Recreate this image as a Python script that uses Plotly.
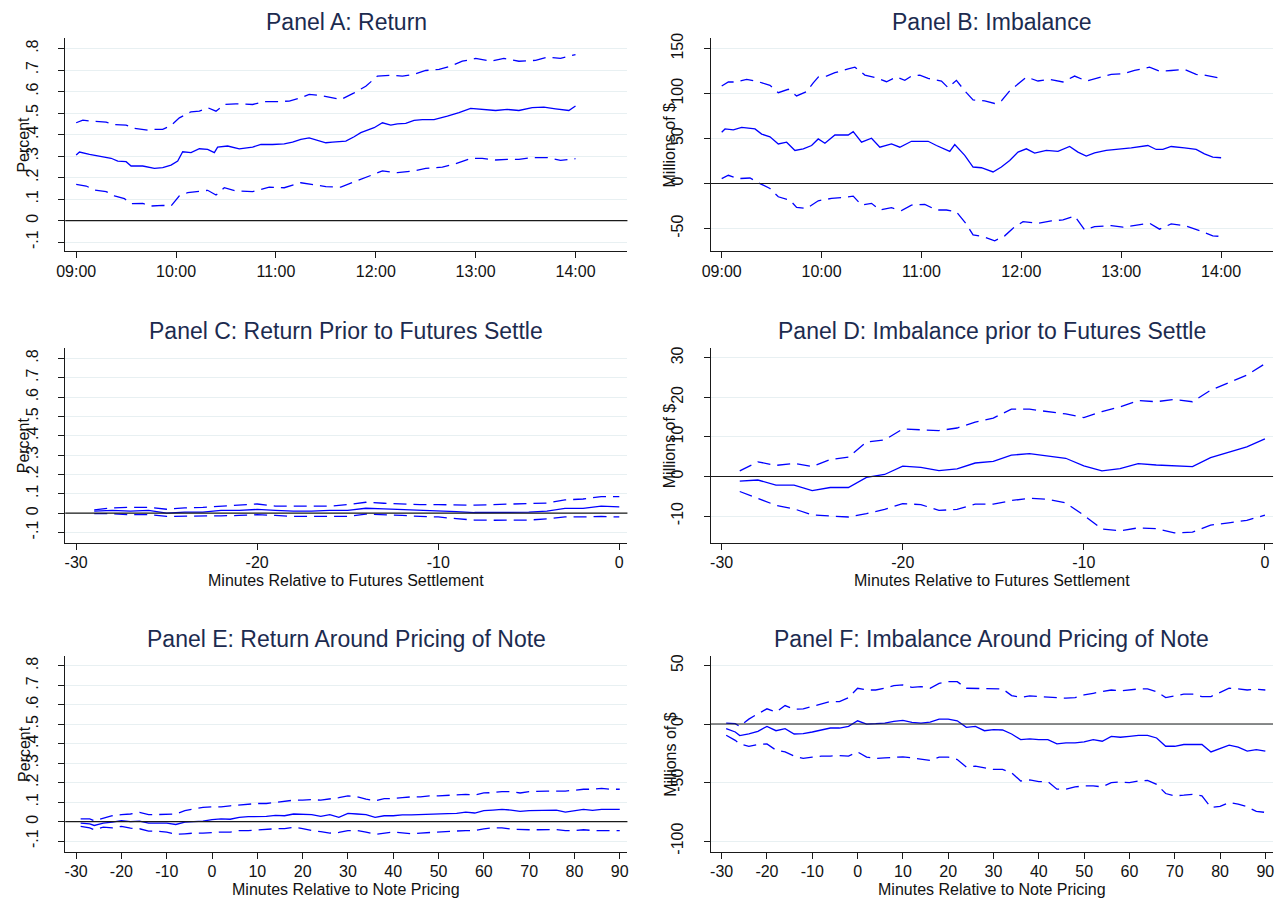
import plotly.graph_objects as go

# ---------------- data ----------------
# Panel A: cumulative return (percent), minutes after 09:00
a_mid_t = [0, 2, 8, 16, 21, 25, 30, 33, 40, 47, 52, 57, 61, 64, 69, 74, 79, 83, 85, 91, 98, 106, 111, 118, 125, 130,
           135, 140, 145, 150, 154, 162, 167, 171, 179, 184, 189, 193, 198, 203, 208, 215, 223, 230, 237, 244, 252,
           259, 266, 274, 281, 288, 296, 300]
a_mid = [0.305, 0.319, 0.308, 0.297, 0.29, 0.277, 0.274, 0.254, 0.254, 0.243, 0.246, 0.258, 0.277, 0.32, 0.316,
         0.334, 0.331, 0.316, 0.342, 0.347, 0.334, 0.342, 0.354, 0.354, 0.357, 0.365, 0.378, 0.385, 0.375, 0.362,
         0.365, 0.37, 0.39, 0.409, 0.432, 0.455, 0.444, 0.45, 0.452, 0.466, 0.47, 0.47, 0.486, 0.502, 0.522, 0.517,
         0.512, 0.517, 0.512, 0.525, 0.528, 0.52, 0.512, 0.533]
a_up_t = [0, 4, 8, 18, 23, 30, 35, 43, 47, 52, 57, 62, 69, 74, 79, 84, 89, 96, 106, 113, 120, 128, 135, 140, 147, 152,
          159, 167, 174, 181, 189, 196, 203, 210, 218, 225, 232, 240, 249, 257, 266, 276, 283, 291, 300]
a_up = [0.455, 0.467, 0.463, 0.458, 0.447, 0.444, 0.429, 0.421, 0.424, 0.424, 0.443, 0.478, 0.506, 0.509, 0.525,
        0.509, 0.54, 0.543, 0.54, 0.553, 0.553, 0.556, 0.571, 0.587, 0.582, 0.574, 0.563, 0.594, 0.625, 0.672, 0.676,
        0.672, 0.68, 0.698, 0.703, 0.718, 0.741, 0.754, 0.741, 0.754, 0.741, 0.745, 0.76, 0.754, 0.772]
a_lo_t = [0, 6, 11, 18, 23, 29, 33, 40, 45, 52, 57, 62, 67, 74, 79, 84, 89, 96, 106, 116, 125, 135, 142, 150, 159, 167,
          174, 184, 193, 203, 210, 220, 227, 237, 244, 252, 259, 266, 274, 283, 291, 300]
a_lo = [0.169, 0.161, 0.142, 0.135, 0.115, 0.102, 0.079, 0.08, 0.068, 0.071, 0.068, 0.115, 0.13, 0.138, 0.141, 0.119,
        0.153, 0.138, 0.135, 0.156, 0.153, 0.176, 0.169, 0.158, 0.156, 0.18, 0.203, 0.231, 0.223, 0.231, 0.243, 0.249,
        0.262, 0.289, 0.289, 0.282, 0.285, 0.285, 0.293, 0.293, 0.28, 0.288]

# Panel B: order imbalance (millions of $), minutes after 09:00
b_mid_t = [0, 2, 7, 12, 20, 24, 29, 34, 39, 44, 49, 54, 58, 62, 68, 76, 79, 84, 90, 95, 102, 107, 114, 124, 129, 137,
           140, 146, 151, 156, 163, 168, 173, 178, 183, 188, 195, 202, 209, 214, 219, 224, 231, 239, 246, 256, 261,
           265, 270, 278, 285, 290, 295, 300]
b_mid = [57, 60.7, 59.6, 62.5, 60.7, 55, 52, 44, 46, 36.8, 38.6, 42.3, 49.6, 44.9, 54, 54, 57.7, 46, 50.4, 40.4, 44,
         40.4, 47, 47, 42.3, 35.7, 43.4, 31.3, 18.4, 17.6, 12.9, 18.4, 25.7, 35, 38.6, 33.8, 36.8, 35.7, 41.2, 35,
         30.5, 34.2, 36.8, 37.9, 39.7, 42.3, 37.9, 37.9, 41.2, 39.7, 37.9, 33.1, 29.4, 28.7]
b_up_t = [0, 4, 8, 15, 22, 29, 34, 40, 45, 51, 55, 58, 63, 68, 76, 80, 86, 93, 99, 105, 110, 114, 119, 124, 132, 136,
          141, 146, 151, 158, 164, 168, 173, 178, 183, 190, 197, 205, 212, 219, 226, 234, 241, 248, 257, 263, 270,
          278, 285, 290, 300]
b_up = [108.5, 112.9, 112.9, 115.8, 113.2, 109.2, 101, 104.8, 97.4, 102.2, 112, 118.4, 119.5, 123.2, 127.6, 129.4,
        120.6, 117.6, 113.2, 118.4, 114.7, 119.5, 120.6, 116.9, 114, 106.6, 114.7, 103, 93, 91.9, 89, 91.9, 103, 110.3,
        118.4, 114, 115.8, 112.9, 119.5, 114, 117.6, 121.3, 122.1, 125.7, 129.4, 125, 125.7, 126.8, 121.3, 120.6, 116.9]
b_lo_t = [0, 4, 10, 17, 23, 29, 34, 41, 45, 51, 58, 66, 73, 79, 84, 90, 95, 102, 108, 114, 122, 129, 135, 141, 147,
          151, 157, 164, 170, 175, 181, 190, 198, 205, 212, 218, 224, 234, 241, 251, 257, 263, 270, 278, 287, 295, 300]
b_lo = [5.5, 9.2, 5.5, 6.2, 0, -5.5, -14.7, -18.4, -26.5, -27.6, -19.1, -16.5, -15.4, -14, -23.9, -22, -29.4, -26.8,
        -30.1, -23.9, -23.2, -29.4, -29.4, -31.3, -45.2, -57, -58.8, -63.6, -58.1, -49.6, -42.3, -44.1, -41.5, -40.4,
        -36, -51.5, -47.8, -46.7, -48.5, -46, -44.1, -50.7, -44.9, -46.7, -52.2, -58.1, -58.8]

# Panels C and D: minutes relative to futures settlement
settle_t = list(range(-29, 1))
c_mid = [.01, .014, .01, .014, 0, .005, .005, .014, .014, .019, .014, .01, .01, .014, .014, .025, .022, .019, .017,
         .014, .008, .003, .003, .005, .005, .01, .024, .024, .036, .032]
c_up = [.017, .027, .03, .03, .02, .027, .03, .036, .039, .047, .036, .036, .036, .036, .044, .056, .051, .047, .044,
        .044, .041, .041, .044, .047, .047, .052, .068, .073, .085, .085]
c_lo = [-.003, -.003, -.008, -.008, -.017, -.017, -.015, -.014, -.012, -.008, -.012, -.017, -.017, -.017, -.017,
        -.005, -.007, -.012, -.017, -.02, -.029, -.036, -.037, -.037, -.036, -.03, -.02, -.02, -.017, -.02]
d_mid = [-1.2, -0.9, -2.2, -2.2, -3.6, -2.8, -2.8, -0.25, 0.5, 2.6, 2.3, 1.5, 1.9, 3.4, 3.8, 5.4, 5.75, 5.2, 4.6, 2.7,
         1.4, 2, 3.25, 2.9, 2.75, 2.5, 4.75, 6.2, 7.5, 9.5]
d_up = [1.4, 3.7, 2.8, 3.3, 2.5, 4.3, 4.9, 8.7, 9.25, 12, 11.8, 11.6, 12.25, 13.75, 14.75, 17, 17, 16.4, 15.8, 14.9,
        16.4, 17.6, 19.2, 18.9, 19.5, 18.9, 21.8, 23.7, 25.6, 28.5]
d_lo = [-3.8, -5.5, -7.3, -8.2, -9.7, -10, -10.25, -9.4, -8.3, -6.9, -7.1, -8.6, -8.3, -7, -7, -6.1, -5.5, -5.8, -6.7,
        -9.8, -13.3, -13.75, -13, -13.2, -14.25, -14.1, -12.3, -11.75, -11.1, -9.8]

# Panels E and F: minutes relative to note pricing
note_t = [-29, -27, -26] + list(range(-24, 92, 2))
e_mid = [-.008, -.012, -.02, -.008, -.003, .005, 0, .002, -.008, -.008, -.008, -.015, -.003, 0, .002, .01, .014, .012,
         .022, .025, .025, .027, .032, .03, .039, .036, .036, .027, .036, .022, .042, .039, .036, .022, .03, .03, .034,
         .034, .036, .039, .042, .041, .042, .049, .044, .056, .059, .063, .059, .052, .056, .056, .056, .059, .049,
         .056, .063, .058, .063, .063, .063]
e_up = [.014, .014, .005, .019, .03, .036, .039, .047, .036, .036, .039, .039, .056, .064, .073, .076, .076, .081, .086,
        .09, .093, .093, .098, .103, .11, .11, .113, .11, .115, .123, .132, .127, .115, .107, .118, .118, .123, .127,
        .127, .132, .132, .135, .135, .14, .137, .147, .149, .154, .154, .147, .154, .157, .157, .157, .157, .161,
        .166, .166, .171, .166, .166]
e_lo = [-.025, -.032, -.042, -.029, -.032, -.025, -.034, -.037, -.049, -.049, -.054, -.066, -.063, -.059, -.059, -.056,
        -.054, -.054, -.046, -.046, -.042, -.041, -.037, -.036, -.029, -.036, -.046, -.052, -.059, -.056, -.046,
        -.046, -.054, -.066, -.059, -.054, -.058, -.063, -.059, -.056, -.054, -.051, -.049, -.046, -.046, -.037,
        -.032, -.032, -.039, -.042, -.042, -.042, -.041, -.041, -.046, -.046, -.042, -.046, -.046, -.047, -.047]
f_mid = [-4, -6.8, -9.9, -8.5, -6.2, -2, -5.7, -4, -8.5, -8.2, -6.8, -4.8, -3.4, -3.4, -2, 2.8, 0, 0.3, 0.8, 2.3, 3.1,
         1.4, 0.8, 1.7, 4.2, 4.2, 2.8, -2.8, -2, -5.7, -4.8, -5.1, -8.5, -13.3, -12.7, -13.3, -13.3, -17, -16.1, -16.1,
         -15.3, -13.3, -14.7, -10.5, -11.3, -10.5, -9.6, -9.6, -11.9, -19, -19, -17.5, -17.5, -17.5, -23.8, -21.2,
         -18.1, -19.8, -23.2, -21.8, -23.2]
f_up = [0.8, 0.3, -2, 4.2, 8.8, 13, 10.2, 15.8, 12.7, 13, 15, 17, 19.2, 19.2, 22.6, 30.6, 29.1, 29.1, 30.6, 32.8, 33.4,
        31.4, 32, 30.6, 34.8, 36.2, 36.2, 30.6, 30.6, 30.6, 30, 30, 24.3, 22.9, 24, 23.5, 22.6, 22.1, 22.1, 22.6, 24.9,
        26.3, 27.7, 29.1, 28.3, 29.1, 30, 30, 27.7, 22.6, 24.3, 25.5, 25.5, 23.5, 23.5, 27.2, 30.6, 30, 29.1, 29.7,
        29.1]
f_lo = [-9.6, -13.9, -17, -19, -17.5, -17, -22.3, -23.8, -27.4, -29.4, -28.3, -27.4, -27.4, -26.9, -27.4, -23.8,
        -28.3, -29.4, -28.9, -28.3, -28, -28.9, -29.7, -31.1, -28.3, -28.3, -30.3, -36.8, -35.9, -37.3, -38.8, -38.8,
        -41.6, -48.7, -47.8, -49.2, -49.2, -55.7, -55.7, -53.7, -52.9, -52.9, -53.7, -50.1, -49.5, -50.1, -48.7,
        -48.1, -51.5, -59.4, -61.4, -60.8, -60, -61.4, -71.3, -70.4, -67, -68.5, -70.7, -74.7, -75.5]

# tick values and labels (hyphen minus, Stata-style leading-dot decimals)
clock_vals = [0, 60, 120, 180, 240, 300]
clock_text = ["09:00", "10:00", "11:00", "12:00", "13:00", "14:00"]
pct_vals = [-0.1, 0, 0.1, 0.2, 0.3, 0.4, 0.5, 0.6, 0.7, 0.8]
pct_text = ["-.1", "0", ".1", ".2", ".3", ".4", ".5", ".6", ".7", ".8"]
settle_vals = [-30, -20, -10, 0]
settle_text = ["-30", "-20", "-10", "0"]
note_vals = [-30, -20, -10, 0, 10, 20, 30, 40, 50, 60, 70, 80, 90]
note_text = ["-30", "-20", "-10", "0", "10", "20", "30", "40", "50", "60", "70", "80", "90"]
b_vals = [-50, 0, 50, 100, 150]
b_text = ["-50", "0", "50", "100", "150"]
d_vals = [-10, 0, 10, 20, 30]
d_text = ["-10", "0", "10", "20", "30"]
f_vals = [-100, -50, 0, 50]
f_text = ["-100", "-50", "0", "50"]

titles = ["Panel A: Return", "Panel B: Imbalance", "Panel C: Return Prior to Futures Settle",
          "Panel D: Imbalance prior to Futures Settle", "Panel E: Return Around Pricing of Note",
          "Panel F: Imbalance Around Pricing of Note"]
ytitles = ["Percent", "Millions of $", "Percent", "Millions of $", "Percent", "Millions of $"]
xtitles = [None, None, "Minutes Relative to Futures Settlement", "Minutes Relative to Futures Settlement",
           "Minutes Relative to Note Pricing", "Minutes Relative to Note Pricing"]

# ---------------- layout geometry (pixels) ----------------
W, H = 1281, 903
FONT = "Liberation Sans, Arial, Helvetica, sans-serif"
TITLE_COLOR = "#1c2b4f"
GRID = "#e8f0f2"
AXIS = "#1a1a1a"
BLUE = "#0000ff"

# (left, right, top, bottom) of each plot area
boxes = [
    (56.7, 623.3, 33.3, 248.6),
    (707.3, 1274.0, 33.3, 248.6),
    (56.7, 623.3, 346.0, 542.7),
    (707.3, 1274.0, 346.0, 542.7),
    (56.7, 623.3, 657.0, 854.5),
    (707.3, 1274.0, 657.0, 854.5),
]
title_y = [17, 17, 329, 329, 640, 640]
xtitle_y = [None, None, 581, 581, 892, 892]
ytitle_x = [15, 666, 15, 666, 15, 666]

xranges = [[-6.56, 331.2], [-6.56, 331.2], [-30.6, 0.45], [-30.6, 0.45], [-32.4, 91.7], [-32.4, 91.7]]
yranges = [[-0.143, 0.849], [-75.4, 161.8], [-0.154, 0.854], [-16.8, 32.5], [-0.156, 0.85], [-109.3, 58.0]]

series = [
    [(a_mid_t, a_mid, "solid"), (a_up_t, a_up, "dash"), (a_lo_t, a_lo, "dash")],
    [(b_mid_t, b_mid, "solid"), (b_up_t, b_up, "dash"), (b_lo_t, b_lo, "dash")],
    [(settle_t, c_mid, "solid"), (settle_t, c_up, "dash"), (settle_t, c_lo, "dash")],
    [(settle_t, d_mid, "solid"), (settle_t, d_up, "dash"), (settle_t, d_lo, "dash")],
    [(note_t, e_mid, "solid"), (note_t, e_up, "dash"), (note_t, e_lo, "dash")],
    [(note_t, f_mid, "solid"), (note_t, f_up, "dash"), (note_t, f_lo, "dash")],
]
xticks = [(clock_vals, clock_text), (clock_vals, clock_text), (settle_vals, settle_text),
          (settle_vals, settle_text), (note_vals, note_text), (note_vals, note_text)]
yticks = [(pct_vals, pct_text), (b_vals, b_text), (pct_vals, pct_text), (d_vals, d_text), (pct_vals, pct_text),
          (f_vals, f_text)]

fig = go.Figure()
annotations = []
shapes = []

for i in range(6):
    n = "" if i == 0 else str(i + 1)
    xa, ya = "x" + n, "y" + n
    l, r, t, b = boxes[i]
    xdom = [l / W, r / W]
    ydom = [1 - b / H, 1 - t / H]

    for xs, ys, style in series[i]:
        fig.add_trace(go.Scatter(
            x=xs, y=ys, mode="lines", xaxis=xa, yaxis=ya, showlegend=False, hoverinfo="skip",
            line=dict(color=BLUE, width=1.3, dash=("solid" if style == "solid" else "13px,7px")),
        ))

    xv, xt = xticks[i]
    yv, yt = yticks[i]
    fig.layout["xaxis" + n] = dict(
        domain=xdom, range=xranges[i], anchor=ya, showgrid=False, zeroline=False,
        showline=True, linecolor=AXIS, linewidth=1, ticks="outside", ticklen=6, tickcolor=AXIS,
        tickvals=xv, ticktext=xt, ticklabelstandoff=-1,
        tickfont=dict(family=FONT, size=16, color="#111"), fixedrange=True)
    fig.layout["yaxis" + n] = dict(
        domain=ydom, range=yranges[i], anchor=xa, showgrid=True, gridcolor=GRID, gridwidth=1,
        zeroline=False, showline=True, linecolor=AXIS, linewidth=1, ticks="outside", ticklen=6,
        tickcolor=AXIS, tickvals=yv, ticktext=yt, tickangle=-90, ticklabelstandoff=14,
        tickfont=dict(family=FONT, size=16, color="#111"), fixedrange=True)

    # horizontal reference line at zero
    shapes.append(dict(type="line", xref=xa + " domain", yref=ya, x0=0, x1=1, y0=0, y1=0,
                       line=dict(color=AXIS, width=1.1), layer="above"))

    annotations.append(dict(text=titles[i], x=(l + r) / 2 / W, y=1 - title_y[i] / H, xref="paper", yref="paper",
                            showarrow=False, xanchor="center", yanchor="middle",
                            font=dict(family=FONT, size=23, color=TITLE_COLOR)))
    annotations.append(dict(text=ytitles[i], x=ytitle_x[i] / W, y=1 - (t + b) / 2 / H, xref="paper",
                            yref="paper", showarrow=False, textangle=-90, xanchor="center", yanchor="middle",
                            font=dict(family=FONT, size=16, color="#111")))
    if xtitles[i]:
        annotations.append(dict(text=xtitles[i], x=(l + r) / 2 / W, y=1 - xtitle_y[i] / H, xref="paper",
                                yref="paper", showarrow=False, xanchor="center", yanchor="middle",
                                font=dict(family=FONT, size=16, color="#111")))

fig.update_layout(
    width=W, height=H, autosize=False,
    margin=dict(l=0, r=0, t=0, b=0),
    paper_bgcolor="white", plot_bgcolor="white",
    annotations=annotations, shapes=shapes,
)

fig.write_html("out.html", config={"displayModeBar": False})
